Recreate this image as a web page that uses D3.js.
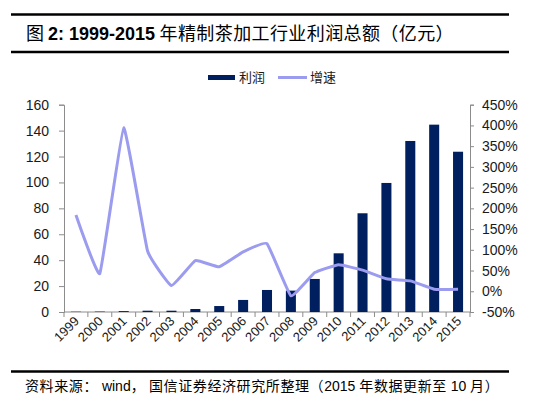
<!DOCTYPE html>
<html>
<head>
<meta charset="utf-8">
<script src="https://cdn.jsdelivr.net/npm/d3@7"></script>
<style>
  body { margin: 0; background: #fff; }
  svg { display: block; }
  .zh { font-family: "Noto Sans CJK SC", sans-serif; }
  .lat { font-family: "Liberation Sans", Arial, sans-serif; }
</style>
</head>
<body>
<svg id="chart" width="547" height="399"></svg>
<script>
// data
const years = ['1999', '2000', '2001', '2002', '2003', '2004', '2005', '2006', '2007',
  '2008', '2009', '2010', '2011', '2012', '2013', '2014', '2015'];
const profit = [0.2, 0.3, 0.7, 1.0, 1.0, 2.3, 4.6, 9.3, 17.0, 16.5, 25.5, 45.3, 76.2, 99.6, 132.0, 144.6, 123.7];
const growth = [184, 43, 394, 97, 14, 74, 59, 95, 115, -11, 45, 64, 51, 30, 25, 5, 5];
const leftTicks = [0, 20, 40, 60, 80, 100, 120, 140, 160];
const rightTicks = [-50, 0, 50, 100, 150, 200, 250, 300, 350, 400, 450];

const svg = d3.select('#chart');
const m = { left: 64, right: 470, top: 104.7, bottom: 312 };

// frame lines
const rule = (y, w) => svg.append('line')
  .attr('x1', 11).attr('x2', 509).attr('y1', y).attr('y2', y)
  .attr('stroke', '#000').attr('stroke-width', w);
rule(14.5, 2.5);
rule(52, 2.5);
rule(371.5, 2.5);

// title
const title = svg.append('text').attr('x', 26).attr('y', 40)
  .attr('font-size', 18).attr('fill', '#000');
title.append('tspan').attr('class', 'zh').text('图 ');
title.append('tspan').attr('class', 'lat').attr('font-weight', 'bold').text('2:  1999-2015');
title.append('tspan').attr('class', 'zh').attr('letter-spacing', 0.4).text(' 年精制茶加工行业利润总额（亿元）');

// scales
const x = d3.scaleBand().domain(years).range([m.left, m.right]).paddingInner(0.58).paddingOuter(0.29);
const xc = d => x(d) + x.bandwidth() / 2;
const yL = d3.scaleLinear().domain([0, 160]).range([m.bottom, m.top]);
const yR = d3.scaleLinear().domain([-50, 450]).range([m.bottom, m.top]);

const axisColor = '#8c8c8c';

// left axis
const gl = svg.append('g').attr('transform', `translate(${m.left},0)`)
  .call(d3.axisLeft(yL).tickValues(leftTicks).tickSize(5).tickPadding(10));
// right axis
const gr = svg.append('g').attr('transform', `translate(${m.right},0)`)
  .call(d3.axisRight(yR).tickValues(rightTicks).tickSize(4).tickPadding(8).tickFormat(d => d + '%'));
[gl, gr].forEach(g => {
  g.select('.domain').attr('stroke', axisColor);
  g.selectAll('.tick line').attr('stroke', axisColor);
  g.selectAll('.tick text').attr('class', 'lat').attr('font-size', 14).attr('fill', '#1a1a1a');
});

// x axis with ticks at category boundaries
const xb = d3.scaleLinear().domain([0, years.length]).range([m.left, m.right]);
svg.append('line').attr('x1', m.left).attr('x2', m.right)
  .attr('y1', m.bottom).attr('y2', m.bottom).attr('stroke', axisColor);
svg.append('g').selectAll('line').data(d3.range(years.length + 1)).join('line')
  .attr('x1', d => xb(d)).attr('x2', d => xb(d))
  .attr('y1', m.bottom).attr('y2', m.bottom + 5).attr('stroke', axisColor);
svg.append('g').selectAll('text').data(years).join('text')
  .attr('class', 'lat').attr('font-size', 13).attr('fill', '#1a1a1a')
  .attr('text-anchor', 'end')
  .attr('transform', d => `translate(${xc(d) + 4},${m.bottom + 10}) rotate(-45)`)
  .text(d => d);

// bars
svg.append('g').selectAll('rect').data(profit).join('rect')
  .attr('x', (d, i) => x(years[i]))
  .attr('width', x.bandwidth())
  .attr('y', d => yL(d))
  .attr('height', d => yL(0) - yL(d))
  .attr('fill', '#001f5f');

// growth line, lightly smoothed
const line = d3.line()
  .x((d, i) => xc(years[i]))
  .y(d => yR(d))
  .curve(d3.curveCardinal.tension(0.7));
svg.append('path').datum(growth)
  .attr('d', line)
  .attr('fill', 'none')
  .attr('stroke', '#9b9bf0')
  .attr('stroke-width', 3)
  .attr('stroke-linejoin', 'round');

// legend
const lg = svg.append('g');
lg.append('rect').attr('x', 208).attr('y', 75).attr('width', 27).attr('height', 5).attr('fill', '#001f5f');
lg.append('text').attr('class', 'zh').attr('x', 239).attr('y', 82).attr('font-size', 13).attr('fill', '#1a1a1a').text('利润');
lg.append('line').attr('x1', 278).attr('x2', 307).attr('y1', 77.5).attr('y2', 77.5)
  .attr('stroke', '#9b9bf0').attr('stroke-width', 3);
lg.append('text').attr('class', 'zh').attr('x', 310).attr('y', 82).attr('font-size', 13).attr('fill', '#1a1a1a').text('增速');

// source note
const note = svg.append('text').attr('x', 25).attr('y', 391).attr('font-size', 14).attr('fill', '#000');
const zh = s => note.append('tspan').attr('class', 'zh').attr('letter-spacing', 0.6).text(s);
const lat = s => note.append('tspan').attr('class', 'lat').text(s);
zh('资料来源：');
lat(' wind');
zh('， 国信证券经济研究所整理（');
lat('2015 ');
zh('年数据更新至 ');
lat('10 ');
zh('月）');
</script>
</body>
</html>
